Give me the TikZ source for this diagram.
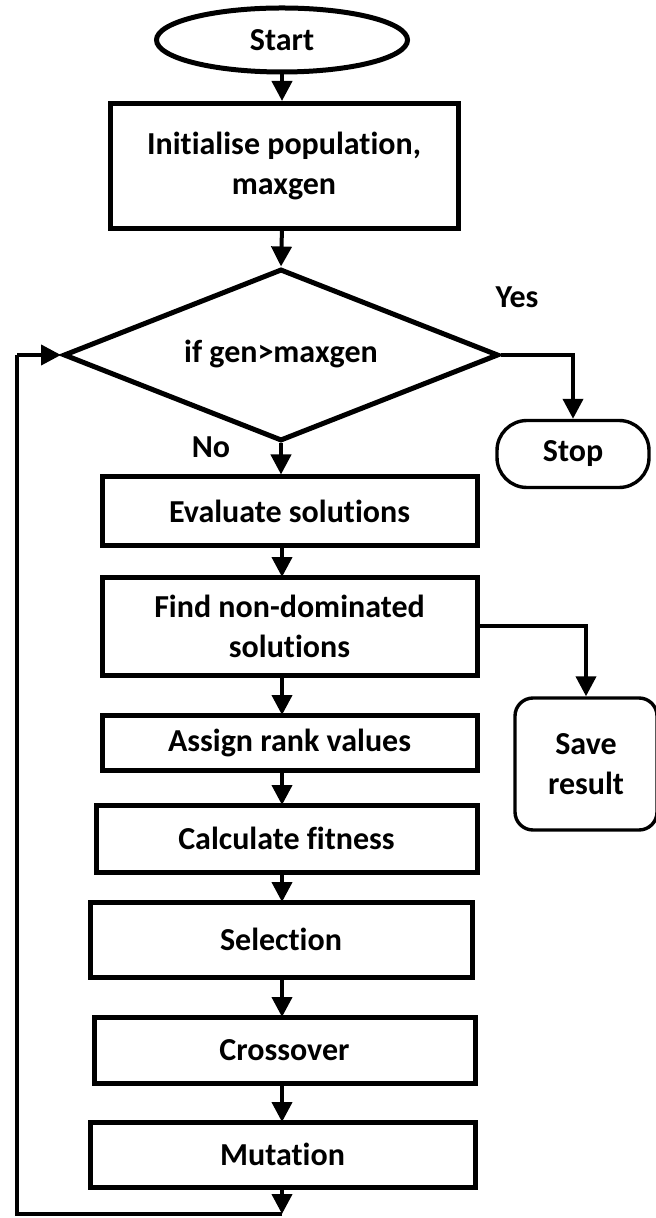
\documentclass[tikz,border=0pt]{standalone}
\usepackage{fontspec}
\setmainfont{Carlito}[Ligatures=NoCommon]
\usetikzlibrary{shapes.geometric,arrows.meta}
\tikzset{
  procbox/.style={draw,line width=2.5pt,rectangle,align=center,inner sep=0pt},
  termbox/.style={draw,line width=1.7pt,rectangle,align=center,inner sep=0pt},
  flowarrow/.style={line width=2pt,-{Triangle[length=10pt,width=10pt]}},
  flowline/.style={line width=2pt},
}
\begin{document}
\begin{tikzpicture}[x=0.5pt,y=-0.5pt,font=\fontsize{16}{20}\selectfont\bfseries]
      \useasboundingbox (0,0) rectangle (656,1218);
      \draw
        (282,40) node[ellipse,draw,line width=2.5pt,inner sep=0pt,minimum width=125.5pt,minimum height=32pt] (start){Start}
        (284,166) node[procbox,minimum width=174pt,minimum height=62.5pt] (init){Initialise population,\\maxgen}
        (281,355) node[diamond,draw,line width=2.5pt,inner sep=0pt,minimum width=217.5pt,minimum height=86pt] (dec){\smash{\makebox[0pt]{\raisebox{-4pt}{if gen>maxgen}}}}
        (573,454) node[termbox,rounded corners=15pt,minimum width=76pt,minimum height=33.5pt] (stop){Stop}
        (289.5,511) node[procbox,minimum width=187.5pt,minimum height=34pt] (eval){Evaluate solutions}
        (289.5,626) node[procbox,minimum width=187.5pt,minimum height=49pt] (find){Find non-dominated\\solutions}
        (586,764) node[termbox,rounded corners=9pt,minimum width=71pt,minimum height=66pt] (save){Save\\result}
        (289.5,742.5) node[procbox,minimum width=187.5pt,minimum height=27.5pt] (rank){Assign rank values}
        (286.5,838.5) node[procbox,minimum width=190.5pt,minimum height=33.5pt] (fit){Calculate fitness}
        (281,939.5) node[procbox,minimum width=191pt,minimum height=37.5pt] (sel){Selection}
        (284.5,1050) node[procbox,minimum width=190.5pt,minimum height=33pt] (cross){Crossover}
        (282.5,1154.5) node[procbox,minimum width=192.5pt,minimum height=32.5pt] (mut){Mutation}
        (517,297) node (yes){Yes}
        (211,447) node (no){No};
      \coordinate (loopbot) at (282,1214);
      \coordinate (loopleft) at (17,1214);
      \coordinate (looptop) at (17,355);
      \begin{scope}[flowarrow]
        \draw (start.south) -- (start.south |- init.north);
        \draw (282,228) -- (dec.north);
        \draw (dec.south) -- (dec.south |- eval.north);
        \draw (dec.east) -| (stop.north);
        \draw (282,545) -- (282,577);
        \draw (find.east) -| (save.north);
        \draw (282,675) -- (282,715);
        \draw (282,770) -- (282,805);
        \draw (282,872) -- (282,902);
        \draw (282,977) -- (282,1017);
        \draw (282,1083) -- (282,1122);
        \draw (282,1187) -- (loopbot);
        \draw (looptop) -- (dec.west);
      \end{scope}
      \draw[flowline] (loopbot) -- (loopleft) -- (looptop);
    \end{tikzpicture}
\end{document}
